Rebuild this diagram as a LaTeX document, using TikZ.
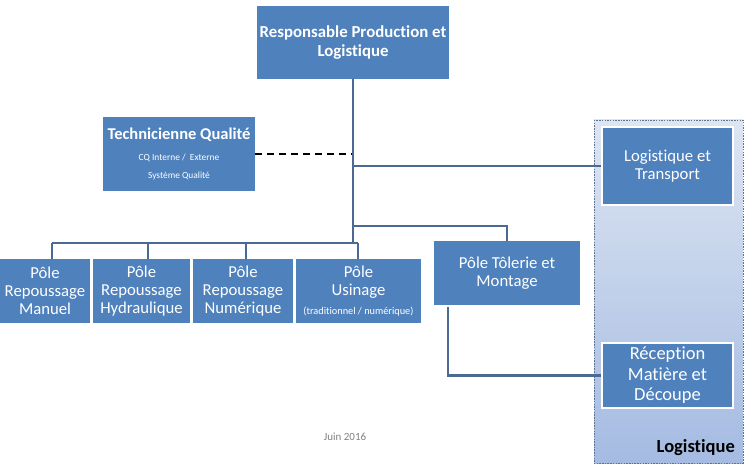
\documentclass[tikz,border=0pt]{standalone}
\usepackage{fontspec}
\setmainfont{Carlito}[Ligatures=NoCommon]
\usetikzlibrary{calc}
\definecolor{boxblue}{HTML}{4F81BD}
\definecolor{linecol}{HTML}{4A6A94}
\definecolor{contTop}{HTML}{DDE5F2}
\definecolor{contBot}{HTML}{A5BBE2}
\definecolor{contBorder}{HTML}{5F7393}
\tikzset{
  orgbox/.style={fill=boxblue, text=white, inner sep=0pt, align=center, font=\fontsize{16.7}{17.8}\selectfont},
  framedbox/.style={orgbox, draw=white, line width=2pt},
  conn/.style={draw=linecol, line width=2.2pt},
  dashconn/.style={draw=black, line width=1.8pt, dash pattern=on 7pt off 5pt},
}
\begin{document}
\begin{tikzpicture}[x=1pt,y=-1pt]
\useasboundingbox (0,0) rectangle (746,465);
% container
\shade[top color=contTop, bottom color=contBot] (594,120) rectangle (743,463);
\draw[contBorder, line width=0.8pt, dash pattern=on 1.5pt off 1.2pt] (594,120) rectangle (743,463);
\node[anchor=south east, inner sep=0pt, font=\fontsize{18.5}{20}\selectfont\bfseries] (loglab) at (735,456) {Logistique};

% boxes
\node[orgbox, minimum width=192pt, minimum height=73pt, font=\fontsize{16.8}{19}\selectfont\bfseries] (top) at (353,42.5) {Responsable Production et\\Logistique};
\node[orgbox, minimum width=152pt, minimum height=74pt] (tech) at (179,154) {{\fontsize{16.5}{17}\selectfont\bfseries Technicienne Qualité}\\[3pt]{\fontsize{9.4}{14}\selectfont CQ Interne /\ \ Externe}\\{\fontsize{9.4}{14}\selectfont Système Qualité}};
\node[framedbox, minimum width=131pt, minimum height=78pt] (logT) at (667.5,166) {Logistique et\\Transport};
\node[orgbox, minimum width=90pt, minimum height=64pt] (manuel) at (45,291) {Pôle\\Repoussage\\Manuel};
\node[orgbox, minimum width=97pt, minimum height=64pt] (hydr) at (141.5,291) {Pôle\\Repoussage\\Hydraulique};
\node[orgbox, minimum width=100pt, minimum height=64pt] (num) at (243,291) {Pôle\\Repoussage\\Numérique};
\node[orgbox, minimum width=125pt, minimum height=64pt] (usin) at (358.5,291) {Pôle\\Usinage\\[1pt]{\fontsize{10.3}{11}\selectfont (traditionnel / numérique)}};
\node[orgbox, minimum width=146pt, minimum height=64pt] (tol) at (507,273) {Pôle Tôlerie et\\Montage};
\node[framedbox, minimum width=131pt, minimum height=65pt, font=\fontsize{18.5}{20.5}\selectfont] (recep) at (667.5,375.5) {Réception\\Matière et\\Découpe};
\node[text=gray, font=\fontsize{11}{12}\selectfont, inner sep=0pt] (date) at (345,437) {Juin 2016};

% coordinates
\coordinate (bus) at (353,243);
\coordinate (dj) at (353,154);
\coordinate (lj) at (353,166);
\coordinate (rj) at (353,226);
\coordinate (busL) at (52,243);
\coordinate (busR) at (358,243);
\coordinate (tb) at (448,307);
\coordinate (tc) at (448,375.5);

% connectors
\draw[dashconn] (tech.east) -- (dj);
\draw[conn] (top.south) -- (bus);
\draw[conn] (lj) -- (logT.west);
\draw[conn] (rj) -| (tol.north);
\draw[conn] (busL) -- (busR);
\draw[conn] (busL) -- (busL |- manuel.north);
\draw[conn] (148,243) -- (148,259);
\draw[conn] (246,243) -- (246,259);
\draw[conn] (busR) -- (busR |- usin.north);
\draw[conn] (tb) -- (tc) -- (recep.west);
\end{tikzpicture}
\end{document}
